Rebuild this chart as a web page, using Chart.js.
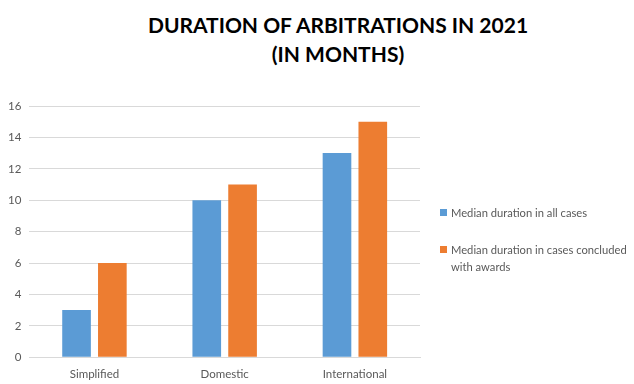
<!DOCTYPE html>
<html lang="en">
<head>
  <meta charset="UTF-8">
  <title>Duration of arbitrations in 2021</title>
  <script src="https://cdn.jsdelivr.net/npm/chart.js"></script>
  <style>
    html, body { margin:0; padding:0; background:#fff }
    body { width:634px; height:384px; position:relative; overflow:hidden; font-family:Lato, "Open Sans", sans-serif }
    .title {
      position:absolute; left:138px; width:400px; top:10px;
      text-align:center; font-weight:bold; font-size:21px; line-height:29px; color:#000;
    }
    .chart-box { position:absolute; left:0; top:0; width:634px; height:396px }
    .legend { position:absolute; left:440px; top:204px; width:190px; color:#595959; font-size:11.2px; line-height:17px }
    .legend .item { position:relative; padding-left:11px; margin-bottom:20px }
    .legend .sw { position:absolute; left:0; top:5px; width:7px; height:7px }
  </style>
</head>
<body>
  <div class="title">DURATION OF ARBITRATIONS IN 2021<br>(IN MONTHS)</div>
  <div class="chart-box"><canvas id="chart"></canvas></div>
  <div class="legend" id="legend"></div>

  <script>
    const categories=["Simplified","Domestic","International"];
    const allCases=[3,10,13];
    const withAwards=[6,11,15];
    const seriesNames=["Median duration in all cases","Median duration in cases concluded with awards"];
    const colors=["#5B9BD5","#ED7D31"];

    const datasets=[allCases,withAwards].map((d,i)=>({
      label:seriesNames[i],
      data:d,
      backgroundColor:colors[i],
      categoryPercentage:0.55,
      barPercentage:0.8
    }));

    new Chart(document.getElementById("chart"),{
      type:"bar",
      data:{labels:categories,datasets},
      options:{
        responsive:true,
        maintainAspectRatio:false,
        animation:false,
        layout:{padding:{left:0,right:214,top:106,bottom:5}},
        plugins:{legend:{display:false},tooltip:{enabled:false}},
        scales:{
          x:{
            grid:{display:false,drawTicks:false},
            border:{color:"#d9d9d9"},
            ticks:{color:"#595959",font:{family:"Lato",size:11.5},padding:10}
          },
          y:{
            min:0,max:16,
            ticks:{stepSize:2,color:"#595959",font:{family:"Lato",size:11.5},padding:8},
            grid:{color:"#d9d9d9",drawTicks:false},
            border:{display:false}
          }
        }
      }
    });

    // legend with wrapped text
    const lg=document.getElementById("legend");
    datasets.forEach(ds=>{
      const it=document.createElement("div");
      it.className="item";
      it.innerHTML=`<span class="sw" style="background:${ds.backgroundColor}"></span>${ds.label}`;
      lg.appendChild(it);
    });
  </script>
</body>
</html>
